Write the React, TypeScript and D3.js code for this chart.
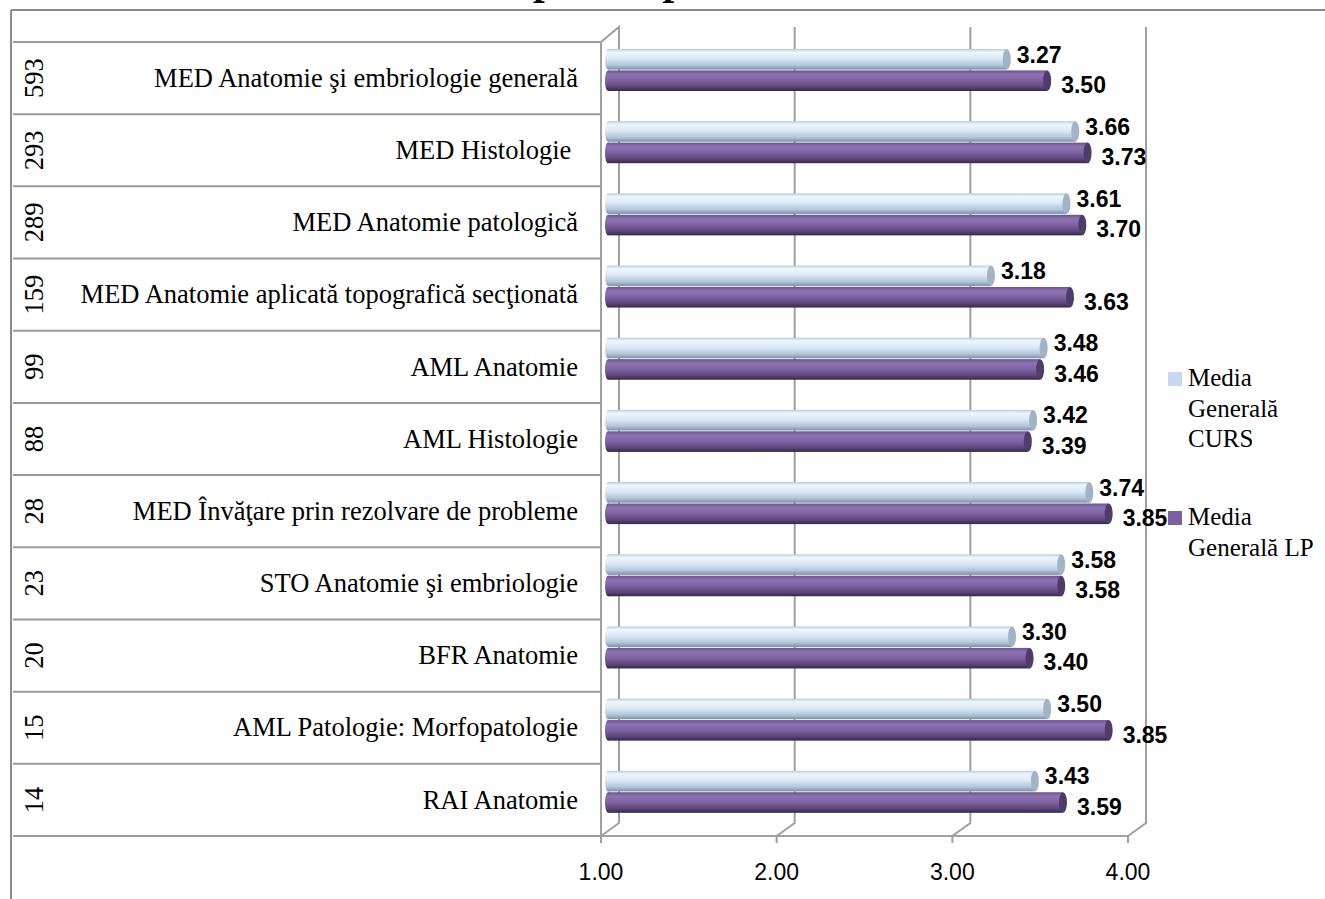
import React from 'react'
import * as d3 from 'd3'

// values, top row first
const categories = [
  'MED Anatomie şi embriologie generală',
  'MED Histologie ',
  'MED Anatomie patologică',
  'MED Anatomie aplicată topografică secţionată',
  'AML Anatomie',
  'AML Histologie',
  'MED Învăţare prin rezolvare de probleme',
  'STO Anatomie şi embriologie',
  'BFR Anatomie',
  'AML Patologie: Morfopatologie',
  'RAI Anatomie',
]
const counts = [593, 293, 289, 159, 99, 88, 28, 23, 20, 15, 14]
const cursValues = [3.27, 3.66, 3.61, 3.18, 3.48, 3.42, 3.74, 3.58, 3.30, 3.50, 3.43]
const lpValues = [3.50, 3.73, 3.70, 3.63, 3.46, 3.39, 3.85, 3.58, 3.40, 3.85, 3.59]
const xTicks = [1, 2, 3, 4]
const seriesKeys = ['CURS', 'LP']
const legendLines = [['Media', 'Generală', 'CURS'], ['Media', 'Generală LP']]
// title is cut off by the top edge in the reference, only two descenders show
const title = 'Media CURS / LP pe discipline'

const W = 1325
const H = 899
const serif = '"Liberation Serif", "Times New Roman", serif'
const sans = '"Liberation Sans", Arial, sans-serif'
const wallColor = '#a0a0a0'

const App: React.FC = () => {
  const plotTop = 42
  const plotBottom = 836
  const depth = { dx: 18, dy: -13 }

  const xFront = d3.scaleLinear().domain([1, 4]).range([601, 1128])
  const xBar = d3.scaleLinear().domain([1, 4]).range([608, 1135])
  const yBand = d3.scaleBand<string>().domain(categories).range([plotTop, plotBottom])
  const ySeries = d3.scaleBand<string>().domain(seriesKeys).range([7, 49]).paddingInner(0.04)
  const bh = ySeries.bandwidth()

  const series = [
    { key: 'CURS', values: cursValues, fill: 'url(#gCurs)', cap: '#a3b3c6', labelDx: 10, labelDy: -5 },
    { key: 'LP', values: lpValues, fill: 'url(#gLp)', cap: '#4f3c6b', labelDx: 14, labelDy: 4 },
  ]

  const rowEdges = categories.map(c => yBand(c) as number).concat([plotBottom])

  return (
    <svg width={W} height={H} style={{ position: 'absolute', left: 0, top: 0, background: '#fff' }}>
      <defs>
        <linearGradient id="gCurs" x1="0" y1="0" x2="0" y2="1">
          <stop offset="0%" stopColor="#b9cadd" />
          <stop offset="15%" stopColor="#eef6fd" />
          <stop offset="45%" stopColor="#dce9f6" />
          <stop offset="78%" stopColor="#b4c6da" />
          <stop offset="100%" stopColor="#7d90a6" />
        </linearGradient>
        <linearGradient id="gLp" x1="0" y1="0" x2="0" y2="1">
          <stop offset="0%" stopColor="#6a5290" />
          <stop offset="20%" stopColor="#8f74b3" />
          <stop offset="50%" stopColor="#7d61a1" />
          <stop offset="80%" stopColor="#5c4679" />
          <stop offset="100%" stopColor="#342845" />
        </linearGradient>
      </defs>

      {/* title, cut off at the top as in the reference */}
      <text x={752} y={-6.5} textAnchor="end" fontFamily={serif} fontSize={42}
        fontWeight="bold" fontStyle="italic" fill="#000">{title}</text>

      {/* outer frame */}
      <line x1={11} y1={10} x2={W} y2={10} stroke="#8c8c8c" strokeWidth={2} />
      <line x1={11} y1={10} x2={11} y2={H} stroke="#8c8c8c" strokeWidth={2} />

      {/* category table rows */}
      {rowEdges.map((y, i) => (
        <line key={'row' + i} x1={13} y1={y} x2={xFront(1)} y2={y} stroke="#9a9a9a" strokeWidth={2} />
      ))}
      {categories.map((c, i) => {
        const cy = (yBand(c) as number) + yBand.bandwidth() / 2
        return (
          <g key={'lab' + i}>
            <text transform={`translate(43,${cy}) rotate(-90)`} textAnchor="middle"
              fontFamily={serif} fontSize={26.5} fill="#000">{counts[i]}</text>
            <text x={578} y={cy} dy="0.33em" textAnchor="end" fontFamily={serif}
              fontSize={26.5} fill="#000" style={{ whiteSpace: 'pre' }}>{c}</text>
          </g>
        )
      })}

      {/* 3d walls and gridlines */}
      <g stroke={wallColor} strokeWidth={2} fill="none">
        <path d={`M${xFront(1)},${plotTop} L${xFront(1) + depth.dx},${plotTop + depth.dy - 2} L${xFront(1) + depth.dx},${plotBottom + depth.dy} L${xFront(1)},${plotBottom}`} />
        <line x1={xFront(1)} y1={plotTop} x2={xFront(1)} y2={plotBottom + 7} />
        <line x1={xFront(1)} y1={plotBottom} x2={xFront(4)} y2={plotBottom} />
        {xTicks.slice(1).map(t => (
          <path key={'g' + t}
            d={`M${xFront(t) + depth.dx},${plotTop + depth.dy - 2} L${xFront(t) + depth.dx},${plotBottom + depth.dy} L${xFront(t)},${plotBottom} L${xFront(t)},${plotBottom + 7}`} />
        ))}
      </g>

      {/* cylinders */}
      {categories.map((c, i) => (
        <g key={'bars' + i}>
          {series.map(s => {
            const y = (yBand(c) as number) + (ySeries(s.key) as number)
            const x0 = xBar(1)
            const x1 = xBar(s.values[i])
            const cy = y + bh / 2
            return (
              <g key={s.key}>
                <ellipse cx={x0} cy={cy} rx={3} ry={bh / 2} fill={s.fill} />
                <rect x={x0} y={y} width={x1 - x0} height={bh} fill={s.fill} />
                <ellipse cx={x1} cy={cy} rx={4} ry={bh / 2} fill={s.cap} />
                <text x={x1 + s.labelDx} y={cy + s.labelDy} dy="0.36em" fontFamily={sans}
                  fontSize={23} fontWeight="bold" fill="#000">{s.values[i].toFixed(2)}</text>
              </g>
            )
          })}
        </g>
      ))}

      {/* value axis labels */}
      {xTicks.map(t => (
        <text key={'t' + t} x={xFront(t)} y={880} textAnchor="middle" fontFamily={sans}
          fontSize={23} fill="#000">{t.toFixed(2)}</text>
      ))}

      {/* legend */}
      {legendLines.map((lines, li) => {
        const top = li === 0 ? 386 : 525
        return (
          <g key={'leg' + li}>
            <rect x={1168} y={top - 14} width={14} height={14} fill={li === 0 ? '#c6d9f1' : '#7b5f9e'} />
            {lines.map((ln, k) => (
              <text key={k} x={1188} y={top + k * 30.5} fontFamily={serif} fontSize={25} fill="#000">{ln}</text>
            ))}
          </g>
        )
      })}
    </svg>
  )
}

export default App
